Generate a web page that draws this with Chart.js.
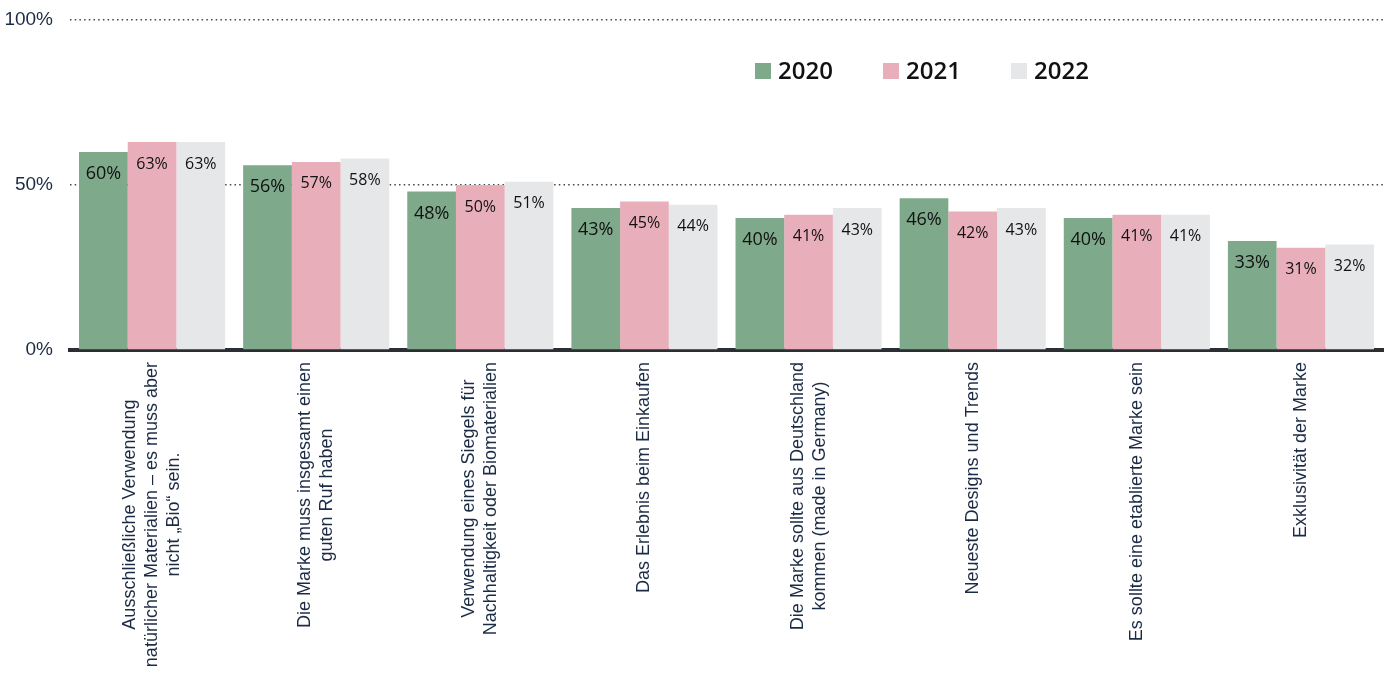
<!DOCTYPE html>
<html>
<head>
<meta charset="utf-8">
<title>Kaufkriterien 2020–2022</title>
<script src="https://cdn.jsdelivr.net/npm/chart.js@4/dist/chart.umd.min.js"></script>
<style>
  html, body { margin: 0; padding: 0; background: #fff; }
  #wrap { width: 1392px; height: 675px; }
</style>
</head>
<body>
<div id="wrap"><canvas id="chart" width="1392" height="675"></canvas></div>
<script>
// categories (each one is a list of lines, drawn vertically under the axis)
var categories = [
    ['Ausschließliche Verwendung', 'natürlicher Materialien – es muss aber', 'nicht „Bio“ sein.'],
    ['Die Marke muss insgesamt einen', 'guten Ruf haben'],
    ['Verwendung eines Siegels für', 'Nachhaltigkeit oder Biomaterialien'],
    ['Das Erlebnis beim Einkaufen'],
    ['Die Marke sollte aus Deutschland', 'kommen (made in Germany)'],
    ['Neueste Designs und Trends'],
    ['Es sollte eine etablierte Marke sein'],
    ['Exklusivität der Marke']
];

var years = ['2020', '2021', '2022'];
var values2020 = [60, 56, 48, 43, 40, 46, 40, 33];
var values2021 = [63, 57, 50, 45, 41, 42, 41, 31];
var values2022 = [63, 58, 51, 44, 43, 43, 41, 32];
var yTicks = [0, 50, 100];

var colors = ['#7ea98a', '#e8afbb', '#e6e7e9'];
var textColor = '#1c2b44';

// value labels inside the top of each bar
var barLabels = {
    id: 'barLabels',
    afterDatasetsDraw: function (chart) {
        var ctx = chart.ctx;
        ctx.save();
        ctx.textAlign = 'center';
        ctx.textBaseline = 'middle';
        ctx.fillStyle = '#111';
        chart.data.datasets.forEach(function (ds, i) {
            var meta = chart.getDatasetMeta(i);
            ctx.font = i === 0 ? '18px "Open Sans"' : '500 16px "Open Sans"';
            meta.data.forEach(function (bar, j) {
                ctx.fillText(ds.data[j] + '%', bar.x, bar.y + 22);
            });
        });
        ctx.restore();
    }
};

// vertical category labels, lines centred on each other
var xLabels = {
    id: 'xLabels',
    afterDraw: function (chart) {
        var ctx = chart.ctx;
        var xs = chart.scales.x;
        var top = chart.chartArea.bottom + 12;
        var lh = 22;
        ctx.save();
        ctx.font = '18px "Liberation Sans", Arial, sans-serif';
        ctx.fillStyle = textColor;
        ctx.textAlign = 'center';
        ctx.textBaseline = 'middle';
        categories.forEach(function (lines, i) {
            var maxW = 0;
            lines.forEach(function (l) { maxW = Math.max(maxW, ctx.measureText(l).width); });
            var cx = xs.getPixelForValue(i);
            ctx.save();
            ctx.translate(cx, top + maxW / 2);
            ctx.rotate(-Math.PI / 2);
            lines.forEach(function (l, k) {
                ctx.fillText(l, 0, (k - (lines.length - 1) / 2) * lh);
            });
            ctx.restore();
        });
        ctx.restore();
    }
};

// legend sitting inside the plot, right of centre
var legendBox = {
    id: 'legendBox',
    afterDraw: function (chart) {
        var ctx = chart.ctx;
        var x = 755, y = 71;
        ctx.save();
        ctx.font = '600 24px "Open Sans"';
        ctx.textBaseline = 'middle';
        chart.data.datasets.forEach(function (ds, i) {
            ctx.fillStyle = ds.backgroundColor;
            ctx.fillRect(x + i * 128, y - 8, 16, 16);
            ctx.fillStyle = '#111';
            ctx.fillText(ds.label, x + i * 128 + 23, y + 1);
        });
        ctx.restore();
    }
};

new Chart(document.getElementById('chart').getContext('2d'), {
    type: 'bar',
    data: {
        labels: categories.map(function (c) { return c.join(' '); }),
        datasets: [
            { label: years[0], data: values2020, backgroundColor: colors[0] },
            { label: years[1], data: values2021, backgroundColor: colors[1] },
            { label: years[2], data: values2022, backgroundColor: colors[2] }
        ]
    },
    options: {
        responsive: false,
        animation: false,
        layout: { padding: { top: 20, right: 9, left: 0, bottom: 0 } },
        datasets: {
            bar: { categoryPercentage: 0.89, barPercentage: 1.0 }
        },
        plugins: {
            legend: { display: false },
            tooltip: { enabled: false }
        },
        scales: {
            x: {
                grid: { display: true, color: 'transparent', drawTicks: false },
                border: { display: true, color: '#2b2f33', width: 4 },
                ticks: { display: false },
                afterFit: function (scale) { scale.height = 325; }
            },
            y: {
                min: 0,
                max: 100,
                afterBuildTicks: function (scale) {
                    scale.ticks = yTicks.map(function (v) { return { value: v }; });
                },
                afterFit: function (scale) {
                    scale.width = 70;
                    // tick padding is for the label gap only, not the top margin
                    scale.paddingTop = 0;
                    scale.paddingBottom = 0;
                },
                grid: {
                    drawTicks: false,
                    lineWidth: 1.5,
                    color: function (c) { return c.tick && c.tick.value === 0 ? 'transparent' : '#444'; }
                },
                border: { display: false, dash: [1.5, 3.2] },
                ticks: {
                    padding: 17,
                    color: textColor,
                    font: { family: '"Liberation Sans", Arial, sans-serif', size: 19 },
                    callback: function (v) { return v + '%'; }
                }
            }
        }
    },
    plugins: [barLabels, xLabels, legendBox]
});
</script>
</body>
</html>
